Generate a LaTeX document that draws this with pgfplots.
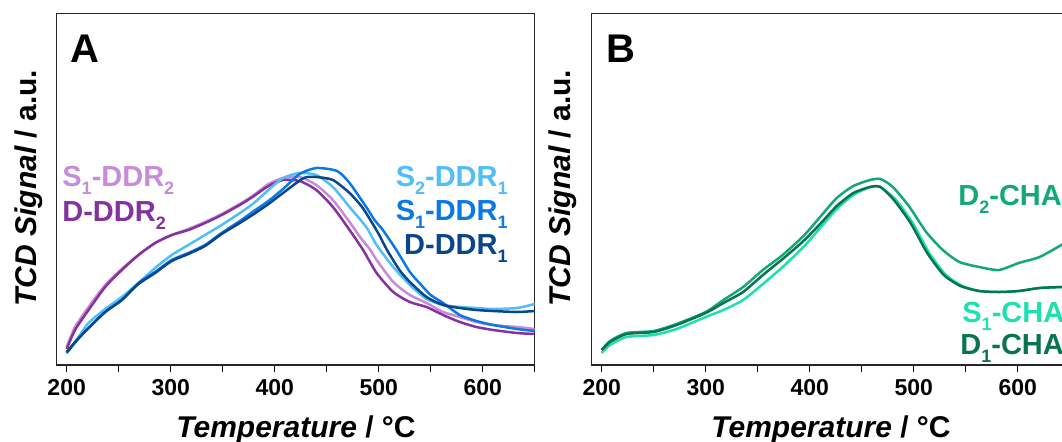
\documentclass[border=0pt]{standalone}
\usepackage{fontspec}
\setmainfont{Liberation Sans}
\setsansfont{Liberation Sans}
\usepackage{pgfplots}
\pgfplotsset{compat=1.18}

\definecolor{orchid}{HTML}{C88CD7}
\definecolor{plum}{HTML}{85339C}
\definecolor{skyb}{HTML}{50BEFA}
\definecolor{midb}{HTML}{0A78E6}
\definecolor{navyb}{HTML}{0A468C}
\definecolor{gmid}{HTML}{14A876}
\definecolor{gaqua}{HTML}{1EE0AF}
\definecolor{gdark}{HTML}{0A7450}

\newcommand\lab{\fontsize{14.5}{16}\selectfont\bfseries}
\newcommand\sub[1]{\raisebox{-4.3pt}{\fontsize{9}{10}\selectfont #1}}
\newcommand\axl{\fontsize{15}{18}\selectfont\bfseries}

\pgfplotsset{tpr/.style={
  scale only axis, width=239pt, height=175.85pt,
  xmin=190.4, xmax=650, ymin=2, ymax=353.7,
  axis line style={line width=0.65pt, black!85},
  xtick={200,300,...,600}, minor xtick={250,350,...,650},
  ytick=\empty, xtick pos=lower,
  tick align=outside,
  major tick length=3.5pt, minor tick length=3.5pt,
  every tick/.style={line width=0.6pt, black},
  /pgf/number format/assume math mode=true,
  xticklabel style={font=\fontsize{11.5}{13}\selectfont\bfseries},
  every axis plot/.append style={line width=1.25pt, smooth, tension=0.4, no markers},
}}

\begin{document}
\begin{tikzpicture}
% panel A
\begin{axis}[tpr, at={(28.35pt,38pt)}, anchor=south west]
\addplot[orchid] table {
200 20
208 40
221 60
237 82
253 98
269 112
285 124
301 132
317 138
333 145
349 153
368 164
380 172
394 183
408 189
424 190
440 182
456 167
472 145
482 130
492 117
498 107
514 85
530 72
546 64
562 55
578 50
594 45
610 42
633 40
650 38
};
\addplot[plum] table {
200 18
208 37
221 57
237 80
253 97
269 112
285 124
301 132
317 137
333 144
349 152
368 163
380 171
394 181
408 187
424 186
440 177
456 160
472 137
485 117
498 94
514 75
530 65
546 60
562 52
578 45
594 40
610 37
633 34
650 33
};
\addplot[skyb] table {
200 14
210 28
221 44
237 58
253 70
269 84
285 99
301 112
317 122
333 132
349 142
368 155
380 164
394 177
408 189
424 194
440 192
456 180
472 160
488 140
498 122
514 100
530 82
546 68
562 62
578 60
594 59
610 58
633 59
650 63
};
\addplot[midb] table {
200 14
210 27
221 39
237 55
253 67
269 84
285 95
301 107
317 114
333 122
349 134
368 147
380 156
394 166
408 178
424 193
440 199
460 196
472 184
488 160
496 147
504 137
517 117
530 95
540 83
550 72
562 64
578 52
594 46
610 42
633 38
650 36
};
\addplot[navyb] table {
200 15
210 27
221 39
237 55
253 67
269 83
285 94
301 106
317 113
333 121
349 133
368 145
380 153
394 163
408 174
428 189
440 190
456 187
472 174
484 160
492 147
500 133
508 117
520 97
530 85
546 70
562 62
578 59
594 57
610 56
633 55
650 56
};
\end{axis}
% panel B
\begin{axis}[tpr, at={(295.85pt,38pt)}, anchor=south west]
\addplot[gmid] table {
200 17
208 26
224 34
250 36
272 43
300 55
317 67
336 80
355 97
374 112
394 131
410 150
426 169
442 181
458 187
468 188
480 180
496 160
512 135
528 117
544 105
563 100
582 97
601 104
621 110
642 122
650 127
};
\addplot[gaqua] table {
200 14
208 22
224 30
250 32
272 38
300 50
317 57
336 67
355 83
374 100
394 120
410 139
426 158
442 172
458 180
468 180
483 167
499 144
515 114
531 92
547 81
563 76
582 75
601 76
621 79
642 80
650 81
};
\addplot[gdark] table {
200 17
208 25
224 33
250 35
272 42
300 54
317 64
336 75
355 92
374 108
394 126
410 143
426 161
442 174
458 180
468 180
481 167
497 144
513 114
529 92
545 81
563 76
582 75
601 76
621 79
642 80
650 81
};
\end{axis}

\begin{scope}[x=0.5pt, y=-0.5pt, shift={(0pt,220.5pt)}, inner sep=0pt]
\node[anchor=base west, font=\fontsize{20}{22}\selectfont\bfseries] at (70,62) {A};
\node[anchor=base west, font=\fontsize{20}{22}\selectfont\bfseries] at (606,62) {B};
\node[anchor=base, font=\axl] at (296,437) {\itshape Temperature\upshape{} / °C};
\node[anchor=base, font=\axl] at (831,437) {\itshape Temperature\upshape{} / °C};
\node[anchor=base, rotate=90, font=\axl] at (36,188) {\itshape TCD Signal\upshape{} / a.u.};
\node[anchor=base, rotate=90, font=\axl] at (570,188) {\itshape TCD Signal\upshape{} / a.u.};
% curve labels A
\node[anchor=base west, font=\lab, text=orchid] at (62,186) {S\sub{1}-DDR\sub{2}};
\node[anchor=base west, font=\lab, text=plum] at (62,221) {D-DDR\sub{2}};
\node[anchor=base east, font=\lab, text=skyb] at (508,186) {S\sub{2}-DDR\sub{1}};
\node[anchor=base east, font=\lab, text=midb] at (508,220) {S\sub{1}-DDR\sub{1}};
\node[anchor=base east, font=\lab, text=navyb] at (508,254) {D-DDR\sub{1}};
% curve labels B
\node[anchor=base west, font=\lab, text=gmid] at (958,205) {D\sub{2}-CHA};
\node[anchor=base west, font=\lab, text=gaqua] at (962,322) {S\sub{1}-CHA};
\node[anchor=base west, font=\lab, text=gdark] at (960,354) {D\sub{1}-CHA};
\end{scope}
\pgfresetboundingbox
\useasboundingbox (0,0) rectangle (531pt,220.5pt);
\end{tikzpicture}
\end{document}
